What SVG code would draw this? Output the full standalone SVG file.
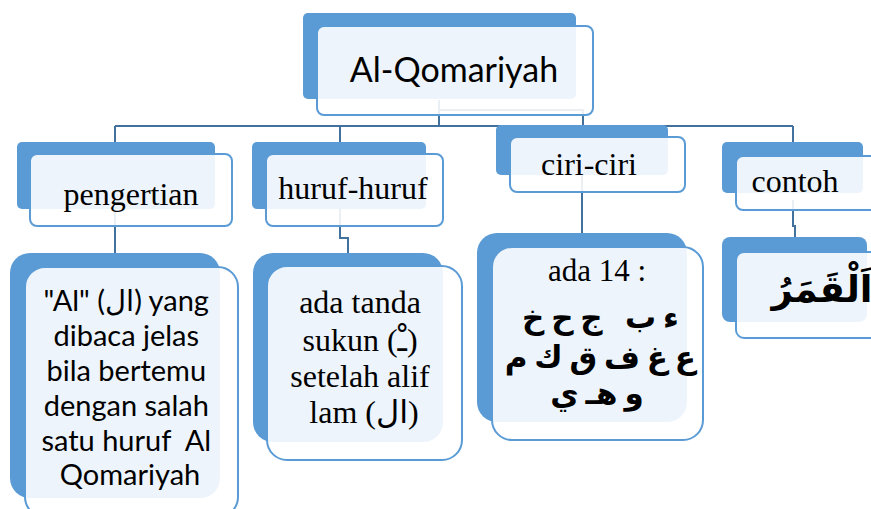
<svg xmlns="http://www.w3.org/2000/svg" width="871" height="509" viewBox="0 0 871 509">
<style>
.back{fill:#5B9BD5}
.front{fill:#FFFFFF;fill-opacity:0.89;stroke:#5B9BD5;stroke-width:2}
.conn{fill:none;stroke:#41719C;stroke-width:2}
.sans{font-family:Lato,"Open Sans","DejaVu Sans",sans-serif;fill:#000}
.serif{font-family:"Liberation Serif","DejaVu Sans",serif;fill:#000}
.ar{font-family:"DejaVu Sans","Noto Sans",sans-serif;font-weight:bold;fill:#000}
text{text-anchor:middle}
</style>
<rect width="871" height="509" fill="#FFFFFF"/>
<g id="connectors">
<path class="conn" d="M439 100V126M115 126H793M115 126V142M340 126V142M793 126V142"/>
<path class="conn" d="M439 110H583V125"/>
<path class="conn" d="M115 200V254"/>
<path class="conn" d="M340 200V238H348V254"/>
<path class="conn" d="M582 170V234"/>
<path class="conn" d="M793 200V226H795V238"/>
</g>
<g id="root">
<rect class="back" x="303" y="13" width="273" height="86" rx="5"/>
<rect class="front" x="317" y="26" width="276" height="89" rx="7"/>
<text class="sans" x="454" y="82" font-size="34">Al-Qomariyah</text>
</g>
<g id="pengertian">
<rect class="back" x="17" y="142" width="198" height="67" rx="5"/>
<rect class="front" x="30" y="154" width="202" height="72" rx="7"/>
<text class="serif" x="131" y="205" font-size="32">pengertian</text>
</g>
<g id="huruf-huruf">
<rect class="back" x="252" y="142" width="174" height="67" rx="5"/>
<rect class="front" x="266" y="154" width="177" height="72" rx="7"/>
<text class="serif" x="353" y="199" font-size="32">huruf-huruf</text>
</g>
<g id="ciri-ciri">
<rect class="back" x="496" y="125" width="172" height="50" rx="5"/>
<rect class="front" x="510" y="137" width="175" height="55" rx="7"/>
<text class="serif" x="589" y="175" font-size="32">ciri-ciri</text>
</g>
<g id="contoh">
<rect class="back" x="722" y="142" width="141" height="51" rx="5"/>
<rect class="front" x="736" y="156" width="150" height="54" rx="7"/>
<text class="serif" x="795" y="192" font-size="32">contoh</text>
</g>
<g id="pengertian-detail">
<rect class="back" x="10" y="253" width="210" height="245" rx="20"/>
<rect class="front" x="25" y="267" width="213" height="250" rx="20"/>
<text class="sans" font-size="29">
<tspan x="130" y="311">"Al" (ال) yang</tspan>
<tspan x="130" y="346">dibaca jelas</tspan>
<tspan x="130" y="381">bila bertemu</tspan>
<tspan x="130" y="416">dengan salah</tspan>
<tspan x="130" y="451">satu huruf&#160; Al</tspan>
<tspan x="130" y="485">Qomariyah</tspan>
</text>
</g>
<g id="huruf-detail">
<rect class="back" x="253" y="253" width="190" height="189" rx="20"/>
<rect class="front" x="267" y="266" width="195" height="194" rx="20"/>
<text class="serif" font-size="32">
<tspan x="364" y="313">ada tanda</tspan>
<tspan x="364" y="351">sukun (ـْ)</tspan>
<tspan x="364" y="387">setelah alif</tspan>
<tspan x="364" y="423">lam (ال)</tspan>
</text>
</g>
<g id="ciri-detail">
<rect class="back" x="477" y="233" width="210" height="189" rx="20"/>
<rect class="front" x="492" y="247" width="211" height="193" rx="20"/>
<text class="serif" x="597" y="281" font-size="31">ada 14 :</text>
<text class="ar" font-size="31" direction="rtl" word-spacing="-4">
<tspan x="597" y="328">ء ب&#8194; ج ح خ</tspan>
<tspan x="597" y="368">ع غ ف ق ك م</tspan>
<tspan x="597" y="404">و هـ ي</tspan>
</text>
</g>
<g id="contoh-detail">
<rect class="back" x="722" y="237" width="145" height="85" rx="8"/>
<rect class="front" x="736" y="252" width="150" height="86" rx="8"/>
<text class="ar" x="822" y="302" font-size="37" direction="rtl">اَلْقَمَرُ</text>
</g>
</svg>
